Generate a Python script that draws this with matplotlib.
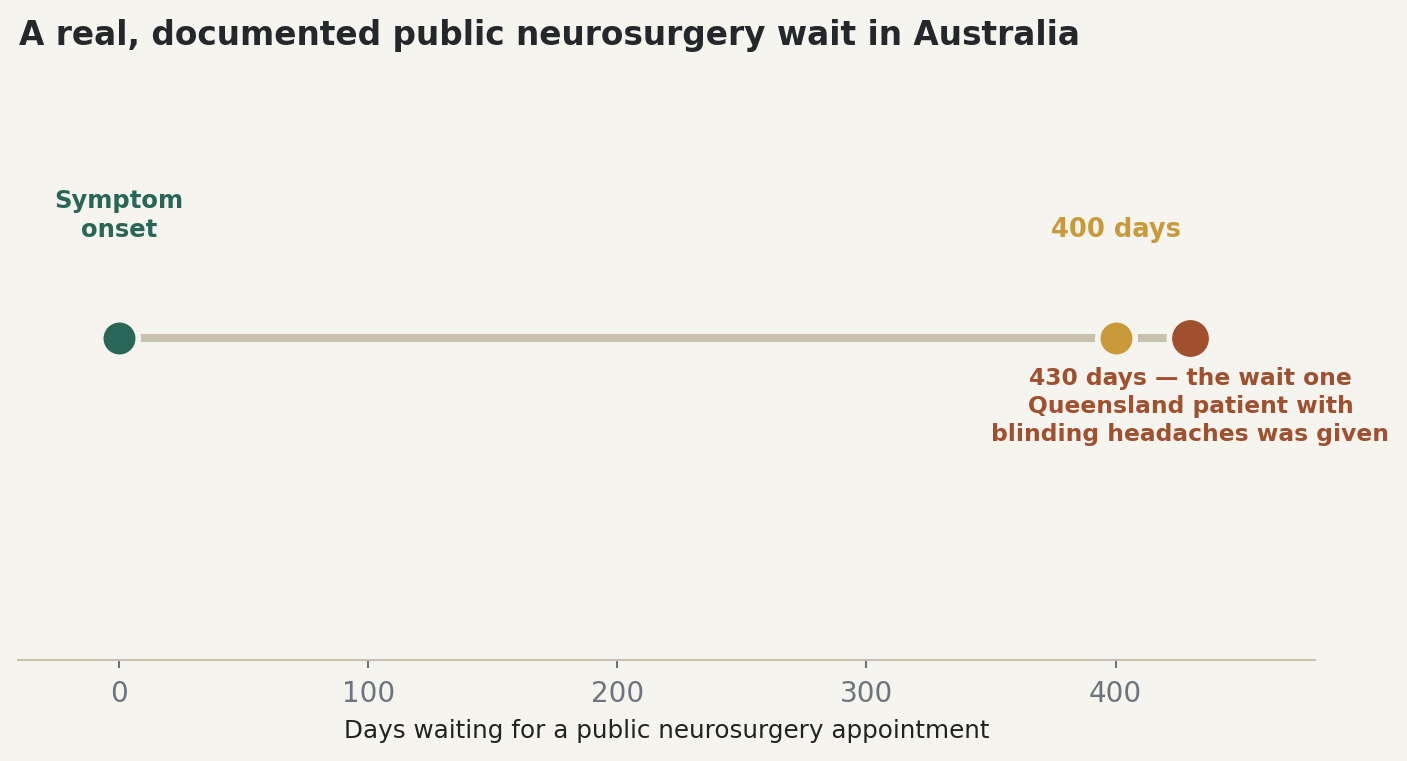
import matplotlib
matplotlib.use("Agg")
import matplotlib.pyplot as plt

# Data
days = [0, 400, 430]
labels = ["Symptom\nonset", "400 days", "430 days — the wait one\nQueensland patient with\nblinding headaches was given"]
colors = ["#2a6657", "#c99a3a", "#a0502f"]
ticks = [0, 100, 200, 300, 400]

BG = "#f5f4ef"
fig = plt.figure(figsize=(14.07, 7.61), dpi=100, facecolor=BG)
ax = fig.add_axes([18/1407, 1 - 660/761, (1315-18)/1407, (660-16)/761])
ax.set_facecolor(BG)

ax.plot([days[0], days[-1]], [0, 0], color="#c9c1b0", lw=5.8, solid_capstyle="butt", zorder=1)
sizes = [27, 27, 30.5]
for d, c, s in zip(days, colors, sizes):
    ax.plot([d], [0], marker="o", ms=s, mfc=c, mec=BG, mew=4, zorder=3, ls="none")

ax.set_xlim(-40.5, 480)
ax.set_ylim(-1, 1)

ax.text(days[0], 0.38, labels[0], ha="center", va="center", color=colors[0],
        fontsize=17.5, fontweight="bold", linespacing=1.28)
ax.text(days[1], 0.335, labels[1], ha="center", va="center", color=colors[1],
        fontsize=18.5, fontweight="bold")
ax.text(days[2], -0.214, labels[2], ha="center", va="center", color=colors[2],
        fontsize=16.8, fontweight="bold", linespacing=1.28)

for side in ["top", "right", "left"]:
    ax.spines[side].set_visible(False)
ax.spines["bottom"].set_color("#c9c1b0")
ax.spines["bottom"].set_linewidth(1.5)
ax.set_yticks([])
ax.set_xticks(ticks)
ax.tick_params(axis="x", colors="#6c757d", labelsize=20, length=6, width=1.5, pad=8.5)
ax.set_xlabel("Days waiting for a public neurosurgery appointment", fontsize=17.7,
              color="#222222", labelpad=8)

fig.text(19/1407, 1 - 35/761, "A real, documented public neurosurgery wait in Australia",
         ha="left", va="center", fontsize=23.6, fontweight="bold", color="#25282b")

fig.savefig("out.png", dpi=100, facecolor=BG)
